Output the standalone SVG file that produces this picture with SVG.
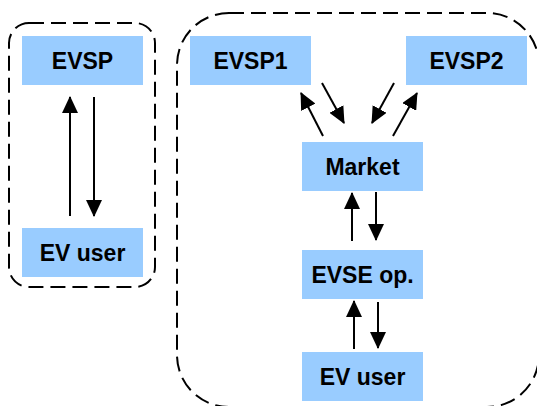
<svg xmlns="http://www.w3.org/2000/svg" width="537" height="406" viewBox="0 0 537 406">
  <style>
    .box { fill: #99CCFF; stroke: none; }
    .lbl { font-family: "Liberation Sans", Arial, sans-serif; font-weight: bold; font-size: 23px; fill: #000; text-anchor: middle; }
    .grp { fill: none; stroke: #000; stroke-width: 2; stroke-dasharray: 15 7; }
    .arr { fill: none; stroke: #000; stroke-width: 2; marker-end: url(#ah); }
  </style>
  <defs>
    <marker id="ah" markerUnits="userSpaceOnUse" markerWidth="17" markerHeight="16" viewBox="0 0 17 16" refX="16" refY="8" orient="auto">
      <path d="M0,0 L17,8 L0,16 Z" fill="#000"/>
    </marker>
  </defs>

  <g id="group-left">
    <rect class="grp" x="9" y="23" width="146" height="264" rx="20" ry="20"/>
  </g>
  <g id="group-right">
    <rect class="grp" x="177" y="13" width="362" height="394" rx="52" ry="52"/>
  </g>

  <g id="evsp">
    <rect class="box" x="22" y="36" width="121" height="49"/>
    <text class="lbl" x="82.5" y="68.5">EVSP</text>
  </g>
  <g id="evuser-left">
    <rect class="box" x="22" y="228" width="121" height="49"/>
    <text class="lbl" x="82.5" y="260.5">EV user</text>
  </g>
  <g id="evsp1">
    <rect class="box" x="190" y="36" width="121" height="49"/>
    <text class="lbl" x="250.5" y="68.5">EVSP1</text>
  </g>
  <g id="evsp2">
    <rect class="box" x="406" y="36" width="121" height="49"/>
    <text class="lbl" x="466.5" y="68.5">EVSP2</text>
  </g>
  <g id="market">
    <rect class="box" x="302" y="142" width="121" height="49"/>
    <text class="lbl" x="362.5" y="174.5">Market</text>
  </g>
  <g id="evse-op">
    <rect class="box" x="302" y="250" width="121" height="49"/>
    <text class="lbl" x="362.5" y="282.5">EVSE op.</text>
  </g>
  <g id="evuser-right">
    <rect class="box" x="302" y="352" width="121" height="49"/>
    <text class="lbl" x="362.5" y="384.5">EV user</text>
  </g>

  <g id="connectors">
    <line class="arr" x1="70" y1="216" x2="70" y2="97"/>
    <line class="arr" x1="94" y1="97" x2="94" y2="216"/>
    <line class="arr" x1="323" y1="136" x2="301" y2="93"/>
    <line class="arr" x1="322" y1="83" x2="344" y2="123"/>
    <line class="arr" x1="394" y1="83" x2="372" y2="123"/>
    <line class="arr" x1="393" y1="136" x2="417" y2="93"/>
    <line class="arr" x1="352" y1="241" x2="352" y2="193"/>
    <line class="arr" x1="376" y1="192" x2="376" y2="240"/>
    <line class="arr" x1="354" y1="349" x2="354" y2="301"/>
    <line class="arr" x1="378" y1="302" x2="378" y2="348"/>
  </g>
</svg>
